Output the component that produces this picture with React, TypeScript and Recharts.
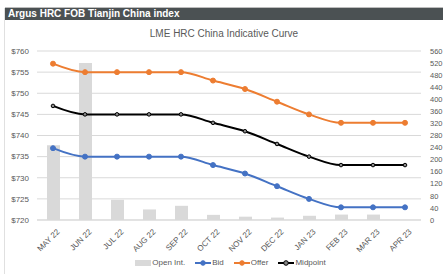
import { ComposedChart, Bar, Line, XAxis, YAxis, CartesianGrid, Legend } from "recharts";

const months = ["MAY 22", "JUN 22", "JUL 22", "AUG 22", "SEP 22", "OCT 22", "NOV 22", "DEC 22", "JAN 23", "FEB 23", "MAR 23", "APR 23"];
const openInt = [248, 520, 67, 35, 47, 17, 11, 8, 14, 18, 18, 0];
const bid = [737, 735, 735, 735, 735, 733, 731, 728, 725, 723, 723, 723];
const offer = [757, 755, 755, 755, 755, 753, 751, 748, 745, 743, 743, 743];
const midpoint = [747, 745, 745, 745, 745, 743, 741, 738, 735, 733, 733, 733];

const priceTicks = [720, 725, 730, 735, 740, 745, 750, 755, 760];
const oiTicks = [0, 40, 80, 120, 160, 200, 240, 280, 320, 360, 400, 440, 480, 520, 560];

const data = months.map((m, i) => ({
  month: m,
  openInt: openInt[i],
  bid: bid[i],
  offer: offer[i],
  midpoint: midpoint[i],
}));

const FONT = "'Liberation Sans', Arial, sans-serif";
const GREY = "#595959";

function XTick({ x, y, payload }: any) {
  return (
    <text
      x={x}
      y={y}
      dy={8}
      dx={2}
      textAnchor="end"
      fontSize={8}
      fill={GREY}
      fontFamily={FONT}
      transform={`rotate(-45 ${x} ${y})`}
    >
      {payload.value}
    </text>
  );
}

function LegendContent() {
  const items = [
    { label: "Open Int.", color: "#d9d9d9", kind: "bar" },
    { label: "Bid", color: "#4472c4", kind: "line" },
    { label: "Offer", color: "#ed7d31", kind: "line" },
    { label: "Midpoint", color: "#000000", kind: "line" },
  ];
  return (
    <div style={{ display: "flex", justifyContent: "center", gap: 10, fontFamily: FONT, fontSize: 8, color: GREY, paddingLeft: 18 }}>
      {items.map((it) => (
        <div key={it.label} style={{ display: "flex", alignItems: "center", gap: 1 }}>
          {it.kind === "bar" ? (
            <svg width={16} height={6}>
              <rect x={0} y={0} width={16} height={6} fill={it.color} />
            </svg>
          ) : (
            <svg width={16} height={6}>
              <line x1={0} y1={3} x2={16} y2={3} stroke={it.color} strokeWidth={2} />
              <circle cx={8} cy={3} r={2.3} fill={it.label === "Midpoint" ? "#888" : it.color} stroke={it.color} strokeWidth={1} />
            </svg>
          )}
          <span>{it.label}</span>
        </div>
      ))}
    </div>
  );
}

export default function App() {
  return (
    <div style={{ position: "absolute", left: 0, top: 0, width: 443, height: 274, background: "#fff", overflow: "hidden" }}>
      <div style={{ position: "absolute", left: 4, top: 8, width: 1, height: 266, background: "#e0e0e0" }} />
      <div style={{ position: "absolute", left: 5, top: 7, width: 438, height: 1, background: "#bdbdbd" }} />
      <div
        style={{
          position: "absolute",
          left: 5,
          top: 8,
          width: 438,
          height: 12,
          background: "#4b5153",
          color: "#fff",
          fontFamily: FONT,
          fontWeight: "bold",
          fontSize: 10,
          lineHeight: "12px",
          paddingLeft: 3,
          boxSizing: "border-box",
        }}
      >
        Argus HRC FOB Tianjin China index
      </div>
      <div
        style={{
          position: "absolute",
          left: 5,
          top: 28,
          width: 438,
          textAlign: "center",
          fontFamily: FONT,
          fontSize: 10,
          color: GREY,
        }}
      >
        LME HRC China Indicative Curve
      </div>
      <ComposedChart
        width={443}
        height={274}
        data={data}
        margin={{ top: 51, right: 0, bottom: 2, left: 0 }}
        style={{ position: "absolute", left: 0, top: 0 }}
      >
        <CartesianGrid yAxisId="price" vertical={false} stroke="#d9d9d9" />
        <XAxis
          dataKey="month"
          interval={0}
          tick={<XTick />}
          tickLine={false}
          axisLine={{ stroke: "#d9d9d9" }}
          height={38}
        />
        <YAxis
          yAxisId="price"
          orientation="left"
          domain={[720, 760]}
          ticks={priceTicks}
          interval={0}
          width={37}
          tickLine={false}
          axisLine={false}
          tickFormatter={(v: number) => `$${v}`}
          tick={{ fontSize: 8, fill: GREY, fontFamily: FONT }}
        />
        <YAxis
          yAxisId="oi"
          orientation="right"
          domain={[0, 560]}
          ticks={oiTicks}
          interval={0}
          width={22}
          tickLine={false}
          axisLine={false}
          tick={{ fontSize: 7.5, fill: GREY, fontFamily: FONT, textAnchor: "start" }}
          tickMargin={3}
        />
        <Legend verticalAlign="bottom" height={14} content={<LegendContent />} />
        <Bar yAxisId="oi" dataKey="openInt" fill="#d9d9d9" barSize={13} isAnimationActive={false} />
        <Line
          yAxisId="price"
          type="monotone"
          dataKey="bid"
          stroke="#4472c4"
          strokeWidth={2}
          dot={{ r: 2.5, fill: "#4472c4", stroke: "#4472c4", strokeWidth: 1 }}
          isAnimationActive={false}
        />
        <Line
          yAxisId="price"
          type="monotone"
          dataKey="offer"
          stroke="#ed7d31"
          strokeWidth={2}
          dot={{ r: 2.5, fill: "#ed7d31", stroke: "#ed7d31", strokeWidth: 1 }}
          isAnimationActive={false}
        />
        <Line
          yAxisId="price"
          type="monotone"
          dataKey="midpoint"
          stroke="#000000"
          strokeWidth={2}
          dot={{ r: 1.8, fill: "#8a8a8a", stroke: "#000", strokeWidth: 1 }}
          isAnimationActive={false}
        />
      </ComposedChart>
    </div>
  );
}
